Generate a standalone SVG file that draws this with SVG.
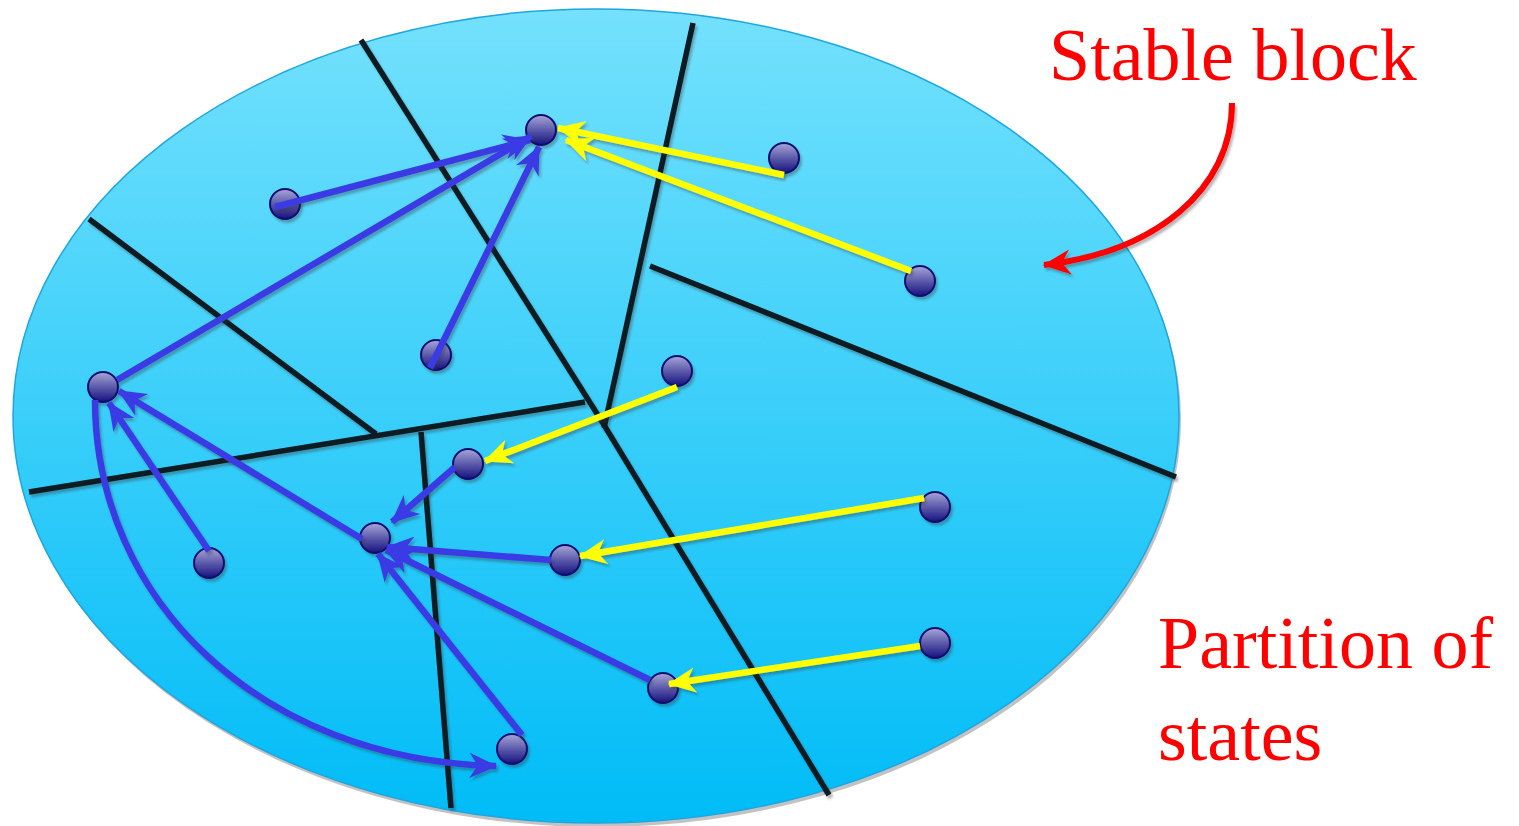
<svg xmlns="http://www.w3.org/2000/svg" width="1519" height="826" viewBox="0 0 1519 826">
<defs>
<linearGradient id="bg" x1="0" y1="0" x2="0" y2="1">
<stop offset="0" stop-color="#74e1fd"/>
<stop offset="1" stop-color="#00bcf7"/>
</linearGradient>
<linearGradient id="ball" x1="0" y1="0" x2="0" y2="1">
<stop offset="0" stop-color="#a8a6d8"/>
<stop offset="0.5" stop-color="#5c5aaa"/>
<stop offset="1" stop-color="#15127e"/>
</linearGradient>
<filter id="sh" x="-10%" y="-10%" width="130%" height="130%">
<feDropShadow dx="2" dy="3" stdDeviation="1" flood-color="#333" flood-opacity="0.35"/>
</filter>
<marker id="ab" markerUnits="userSpaceOnUse" viewBox="0 0 20 20" markerWidth="28" markerHeight="28" refX="19" refY="10" orient="auto">
<path d="M0,1 L20,10 L0,19 L6,10 z" fill="#3b3be6"/>
</marker>
<marker id="ay" markerUnits="userSpaceOnUse" viewBox="0 0 20 20" markerWidth="28" markerHeight="28" refX="19" refY="10" orient="auto">
<path d="M0,1 L20,10 L0,19 L6,10 z" fill="#ffff00"/>
</marker>
<marker id="ar" markerUnits="userSpaceOnUse" viewBox="0 0 20 20" markerWidth="28" markerHeight="28" refX="19" refY="10" orient="auto">
<path d="M0,1 L20,10 L0,19 L6,10 z" fill="#ff0000"/>
</marker>
</defs>
<style>
.part{stroke:#0a1a24;stroke-width:5.5;fill:none;stroke-linecap:butt}
.node{fill:url(#ball);stroke:#0c0a70;stroke-width:2}
.b{stroke:#3b3be6;stroke-width:6.5;fill:none;marker-end:url(#ab)}
.y{stroke:#ffff00;stroke-width:6.5;fill:none;marker-end:url(#ay)}
.lbl{font-family:"Liberation Serif","Times New Roman",serif;font-size:74px;fill:#ff0000}
</style>
<rect width="1519" height="826" fill="#ffffff"/>
<g id="block">
<ellipse cx="598" cy="420" rx="583" ry="407" fill="#9a9a9a" opacity="0.6"/>
<ellipse cx="596" cy="416" rx="583" ry="407" fill="url(#bg)" stroke="#1ea6e0" stroke-width="1.5"/>
</g>
<g id="partitions" filter="url(#sh)">
<line class="part" x1="361" y1="40" x2="601" y2="420"/>
<line class="part" x1="601" y1="420" x2="829" y2="795"/>
<line class="part" x1="693" y1="23" x2="604" y2="428"/>
<line class="part" x1="650" y1="266" x2="1176" y2="477"/>
<line class="part" x1="89" y1="219" x2="376" y2="434"/>
<line class="part" x1="29" y1="492" x2="585" y2="402"/>
<line class="part" x1="421" y1="432" x2="451" y2="808"/>
</g>
<g id="nodes" filter="url(#sh)">
<circle id="nA" class="node" cx="541" cy="130" r="15"/>
<circle id="nB" class="node" cx="784" cy="158" r="15"/>
<circle id="nC" class="node" cx="285" cy="204" r="15"/>
<circle id="nD" class="node" cx="920" cy="281" r="15"/>
<circle id="nE" class="node" cx="436" cy="355" r="15"/>
<circle id="nF" class="node" cx="677" cy="371" r="15"/>
<circle id="nG" class="node" cx="103" cy="387" r="15"/>
<circle id="nH" class="node" cx="468" cy="464" r="15"/>
<circle id="nI" class="node" cx="375" cy="538" r="15"/>
<circle id="nJ" class="node" cx="565" cy="560" r="15"/>
<circle id="nK" class="node" cx="209" cy="563" r="15"/>
<circle id="nL" class="node" cx="935" cy="507" r="15"/>
<circle id="nM" class="node" cx="935" cy="643" r="15"/>
<circle id="nN" class="node" cx="663" cy="688" r="15"/>
<circle id="nO" class="node" cx="512" cy="749" r="15"/>
</g>
<g id="connectors" filter="url(#sh)">
<line class="b" x1="275" y1="207" x2="530" y2="140"/>
<line class="b" x1="117" y1="380" x2="531" y2="136"/>
<line class="b" x1="430" y1="368" x2="539" y2="147"/>
<line class="b" x1="362" y1="539" x2="119" y2="391"/>
<line class="b" x1="209" y1="551" x2="109" y2="403"/>
<line class="b" x1="455" y1="467" x2="392" y2="522"/>
<line class="b" x1="551" y1="560" x2="387" y2="547"/>
<line class="b" x1="650" y1="680" x2="386" y2="550"/>
<line class="b" x1="522" y1="735" x2="378" y2="554"/>
<path class="b" d="M95,400 C95,600 260,760 496,766"/>
<line class="y" x1="784" y1="175" x2="558" y2="128"/>
<line class="y" x1="911" y1="271" x2="566" y2="140"/>
<line class="y" x1="677" y1="387" x2="485" y2="461"/>
<line class="y" x1="924" y1="498" x2="580" y2="556"/>
<line class="y" x1="920" y1="646" x2="669" y2="684"/>
<path d="M1232,103 C1232,190 1155,252 1044,265" stroke="#ff0000" stroke-width="6" fill="none" marker-end="url(#ar)"/>
</g>
<g id="labels">
<text class="lbl" x="1049" y="80">Stable block</text>
<text class="lbl" x="1158" y="668">Partition of</text>
<text class="lbl" x="1158" y="760">states</text>
</g>
</svg>
